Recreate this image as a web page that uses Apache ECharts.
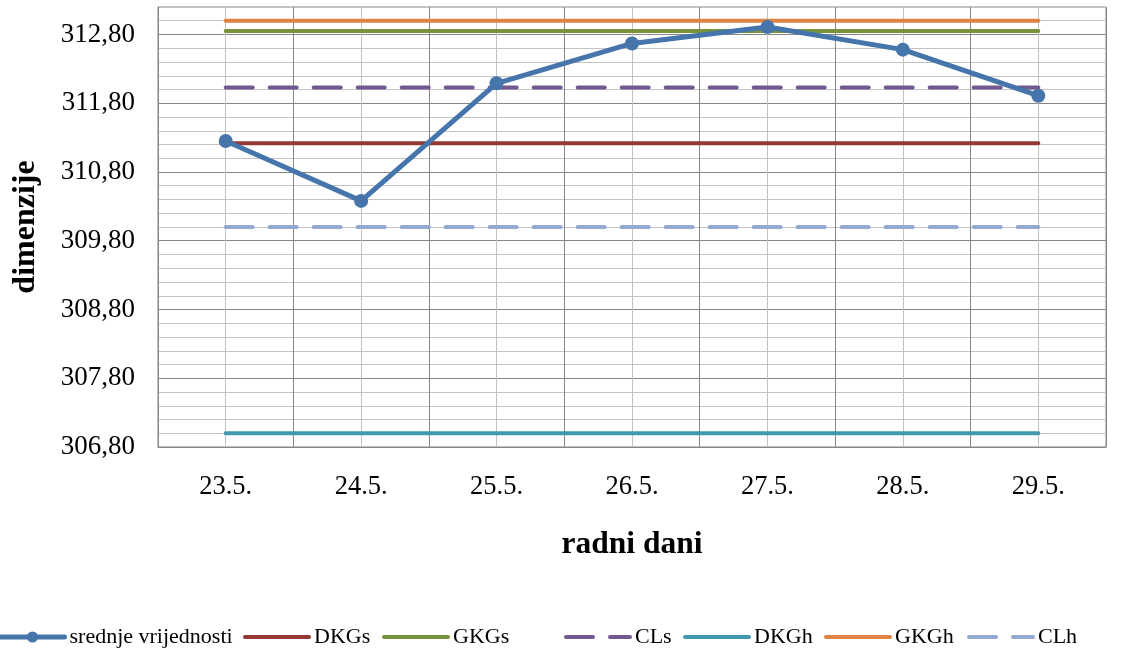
<!DOCTYPE html>
<html>
<head>
<meta charset="utf-8">
<script src="https://cdn.jsdelivr.net/npm/echarts@6/dist/echarts.min.js"></script>
<style>
html,body{margin:0;padding:0;background:#fff;}
#chart{width:1122px;height:653px;}
</style>
</head>
<body>
<div id="chart"></div>
<script>
// ---- data ----
const categories = ['23.5.', '24.5.', '25.5.', '26.5.', '27.5.', '28.5.', '29.5.'];
const srednjeVrijednosti = [311.25, 310.38, 312.09, 312.67, 312.91, 312.58, 311.91];
const DKGs = [311.22, 311.22, 311.22, 311.22, 311.22, 311.22, 311.22];
const GKGs = [312.85, 312.85, 312.85, 312.85, 312.85, 312.85, 312.85];
const CLs  = [312.03, 312.03, 312.03, 312.03, 312.03, 312.03, 312.03];
const DKGh = [307.00, 307.00, 307.00, 307.00, 307.00, 307.00, 307.00];
const GKGh = [313.00, 313.00, 313.00, 313.00, 313.00, 313.00, 313.00];
const CLh  = [310.00, 310.00, 310.00, 310.00, 310.00, 310.00, 310.00];
const seriesNames = ['srednje vrijednosti', 'DKGs', 'GKGs', 'CLs', 'DKGh', 'GKGh', 'CLh'];
const yTickLabels = ['306,80', '307,80', '308,80', '309,80', '310,80', '311,80', '312,80'];
const yMin = 306.8, yMax = 313.2, yStep = 0.2;

const FONT = "'Liberation Serif', 'Times New Roman', serif";
const DARK = '#878787', LIGHT = '#c3c3c3';
const BLUE = '#4675AB';

const chart = echarts.init(document.getElementById('chart'), null, {renderer: 'canvas'});

function flat(name, data, color, dashed) {
  return {
    name, type: 'line', data, xAxisIndex: 0, yAxisIndex: 0,
    symbol: 'none', showSymbol: false, silent: true,
    lineStyle: {color, width: 4, type: dashed ? [27, 17] : 'solid', cap: 'round'},
    itemStyle: {color},
    z: 3
  };
}

// one legend per entry, placed like the original
const legendLefts = [-2, 243, 382, 564, 683, 824, 967];
const legends = seriesNames.map(function (n, i) {
  return {
    left: legendLefts[i], top: 626, padding: 0,
    itemWidth: 64, itemHeight: 14, itemGap: 0,
    textStyle: {fontFamily: FONT, fontSize: 22, color: '#000'},
    data: [{
      name: n,
      lineStyle: {width: i === 0 ? 5 : 4, cap: 'round'},
      itemStyle: i === 0 ? {} : {opacity: 0}
    }]
  };
});

chart.setOption({
  animation: false,
  backgroundColor: '#fff',
  textStyle: {fontFamily: FONT},
  grid: {left: 158, right: 16, top: 7, bottom: 206, show: true, borderColor: DARK, borderWidth: 1, containLabel: false},
  legend: legends,
  xAxis: [
    {
      type: 'category', data: categories, boundaryGap: true,
      axisLine: {show: true, lineStyle: {color: DARK, width: 1}},
      axisTick: {show: false},
      splitLine: {show: false},
      axisLabel: {fontFamily: FONT, fontSize: 26.5, color: '#000', margin: 27},
      name: 'radni dani', nameLocation: 'middle', nameGap: 82,
      nameTextStyle: {fontFamily: FONT, fontSize: 31.5, fontWeight: 'bold', color: '#000'}
    },
    {
      type: 'value', min: 0, max: 7, interval: 0.5, show: true,
      axisLine: {show: false}, axisTick: {show: false}, axisLabel: {show: false},
      splitLine: {show: true, lineStyle: {color: [DARK, LIGHT], width: 1}}
    }
  ],
  yAxis: {
    type: 'value', min: yMin, max: yMax, interval: yStep,
    axisLine: {show: true, lineStyle: {color: DARK, width: 1}},
    axisTick: {show: false},
    splitLine: {show: true, lineStyle: {color: [DARK, LIGHT, LIGHT, LIGHT, LIGHT], width: 1}},
    axisLabel: {
      fontFamily: FONT, fontSize: 27, color: '#000', margin: 23,
      formatter: function (v) {
        const k = Math.round((v - yMin) / yStep);
        return k % 5 === 0 ? (yTickLabels[k / 5] || '') : '';
      }
    },
    name: 'dimenzije', nameLocation: 'middle', nameGap: 116,
    nameTextStyle: {fontFamily: FONT, fontSize: 32, fontWeight: 'bold', color: '#000'}
  },
  series: [
    flat('DKGs', DKGs, '#953735', false),
    flat('GKGs', GKGs, '#77933C', false),
    flat('CLs', CLs, '#71588F', true),
    flat('DKGh', DKGh, '#4198AF', false),
    flat('GKGh', GKGh, '#DE8344', false),
    flat('CLh', CLh, '#93A9CF', true),
    {
      name: 'srednje vrijednosti', type: 'line', data: srednjeVrijednosti,
      symbol: 'circle', symbolSize: 14, showSymbol: true,
      lineStyle: {color: BLUE, width: 5},
      itemStyle: {color: BLUE},
      z: 5
    }
  ]
});
</script>
</body>
</html>
